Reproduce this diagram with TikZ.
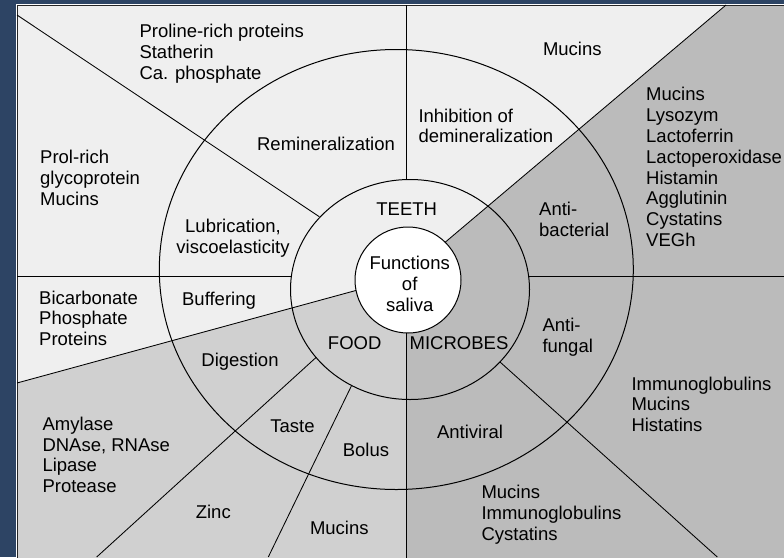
\documentclass[tikz,border=0pt]{standalone}
\usepackage{fontspec}
\setmainfont{Liberation Sans}
\definecolor{bgblue}{HTML}{2D4464}
\definecolor{teethc}{HTML}{EFEFEF}
\definecolor{foodc}{HTML}{D0D0D0}
\definecolor{microc}{HTML}{BBBBBB}
\begin{document}
\begin{tikzpicture}[x=1pt,y=-1pt,
  lbl/.style={font=\fontsize{18.5}{20.8}\selectfont, inner sep=0pt, text=black},
  lst/.style={lbl, anchor=west, align=left},
  ring/.style={draw=black, line width=1pt},
  sep/.style={draw=black, line width=0.85pt}]
\useasboundingbox (0,0) rectangle (784,557);
\clip (0,0) rectangle (784,557);
\fill[bgblue] (0,0) rectangle (784,557);
% sector fills
\fill[microc] (17,5) rectangle (800,580);
\coordinate (P0) at (403.7,277.3);
\coordinate (P1) at (406,276.8);
\coordinate (L6a) at (444.4,242.9);
\coordinate (L6b) at (726,5);
\coordinate (L7a) at (356.9,290.2);
\coordinate (L7b) at (17,383);
\fill[teethc] (P0) -- (L6b) -- (17,5) -- (L7b) -- cycle;
\fill[foodc] (P1) -- (L7b) -- (17,580) -- (406,580) -- cycle;
% frame
\draw[white, line width=0.9pt] (16,600) |- (800,4);
\draw[black!85, line width=0.9pt] (17,600) |- (800,5);
% ring centres
\coordinate (co) at (396.3,269.5);
\coordinate (cm) at (410,289.5);
% radial separators
\coordinate (L1a) at (406.7,5);
\coordinate (L1b) at (406.7,179.8);
\coordinate (L2a) at (406,331);
\coordinate (L2b) at (406,580);
\coordinate (L3a) at (17,276);
\coordinate (L3b) at (291.4,276);
\coordinate (L4a) at (528.7,276.5);
\coordinate (L4b) at (800,276.5);
\coordinate (L5a) at (17,15);
\coordinate (L5b) at (319.3,216.7);
\coordinate (L8a) at (316,357.5);
\coordinate (L8b) at (96.7,557);
\coordinate (L9a) at (351.7,385.3);
\coordinate (L9b) at (268.3,557);
\coordinate (L10a) at (500,362);
\coordinate (L10b) at (717.3,557);
\draw[sep] (L1a) -- (L1b);
\draw[sep] (L2a) -- (L2b);
\draw[sep] (L3a) -- (L3b);
\draw[sep] (L4a) -- (L4b);
\draw[sep] (L5a) -- (L5b);
\draw[sep] (L6a) -- (L6b);
\draw[sep] (L7a) -- (L7b);
\draw[sep] (L8a) -- (L8b);
\draw[sep] (L9a) -- (L9b);
\draw[sep] (L10a) -- (L10b);
% rings
\draw[ring] (co) ellipse [x radius=237, y radius=220];
\draw[ring] (cm) ellipse [x radius=119.5, y radius=110];
% centre
\node[circle, draw, fill=white, line width=1pt, minimum size=106pt, inner sep=0pt] (hub) at (408,280) {};
\node[lbl, align=center] (hubtxt) at (409.7,284) {Functions\\of\\saliva};
% outer texts
\node[lst] (prp) at (139.3,53.5) {Proline-rich proteins\\Statherin\\Ca. phosphate};
\node[lst] (prg) at (40,178) {Prol-rich\\glycoprotein\\Mucins};
\node[lbl] (mucT) at (572.3,49) {Mucins};
\node[lst] (abl) at (646,167) {Mucins\\Lysozym\\Lactoferrin\\Lactoperoxidase\\Histamin\\Agglutinin\\Cystatins\\VEGh};
\node[lst] (bufl) at (39,318.2) {Bicarbonate\\Phosphate\\Proteins};
\node[lst] (enz) at (42.3,454.8) {Amylase\\DNAse, RNAse\\Lipase\\Protease};
\node[lbl] (zinc) at (213.3,512) {Zinc};
\node[lbl] (mucB) at (339.3,527.7) {Mucins};
\node[lst] (afl) at (631.3,404.2) {Immunoglobulins\\Mucins\\Histatins};
\node[lst] (avl) at (481.3,515) {Mucins\\Immunoglobulins\\Cystatins};
% ring texts
\node[lbl] (remin) at (326,144) {Remineralization};
\node[lst] (inhib) at (418.3,125.9) {Inhibition of\\demineralization};
\node[lbl, align=center] (lubr) at (233,238.3) {Lubrication,\\viscoelasticity};
\node[lst] (antib) at (539,219.3) {Anti-\\bacterial};
\node[lbl] (buff) at (219,301) {Buffering};
\node[lbl] (dig) at (240,361.3) {Digestion};
\node[lbl] (taste) at (292.5,426) {Taste};
\node[lbl] (bolus) at (366,449.7) {Bolus};
\node[lbl] (food) at (354.7,343) {FOOD};
\node[lbl] (micro) at (459,343.5) {MICROBES};
\node[lst] (antif) at (542.3,337) {Anti-\\fungal};
\node[lbl] (antiv) at (470,432) {Antiviral};
\node[lbl] (teeth) at (406.7,209.3) {TEETH};
\end{tikzpicture}
\end{document}
